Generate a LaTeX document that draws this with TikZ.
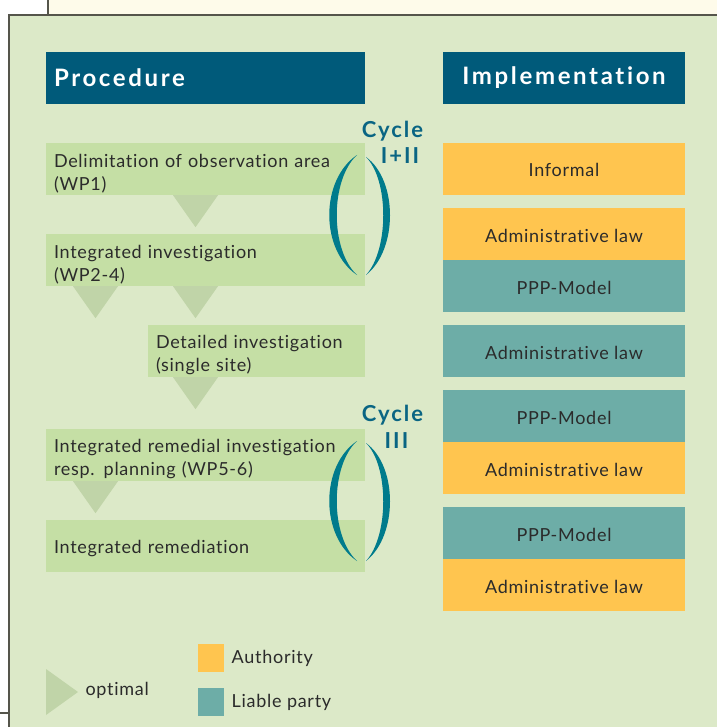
\documentclass[tikz,border=0pt]{standalone}
\usepackage{fontspec}
\setmainfont{Lato}[LetterSpace=4, Ligatures=NoCommon]
\usetikzlibrary{positioning}

\definecolor{panelgreen}{RGB}{220,233,200}
\definecolor{boxgreen}{RGB}{197,223,165}
\definecolor{trigreen}{RGB}{192,212,168}
\definecolor{headblue}{RGB}{0,90,122}
\definecolor{authorange}{RGB}{255,197,79}
\definecolor{liableteal}{RGB}{109,173,167}
\definecolor{cycleteal}{RGB}{0,123,140}
\definecolor{cyclebluetxt}{RGB}{10,101,131}
\definecolor{creambg}{RGB}{254,251,234}
\definecolor{frameline}{RGB}{85,85,75}
\definecolor{txtdark}{RGB}{43,43,43}

\tikzset{
    stepbox/.style={fill=boxgreen, text=txtdark, minimum height=52pt, inner xsep=8pt, inner ysep=0pt,
        align=left, font=\fontsize{18}{23}\selectfont, execute at begin node=\rule{0pt}{#1}},
    stepbox/.default=22pt,
    implbox/.style={minimum width=242pt, minimum height=52pt, text=txtdark,
        text height=16pt, text depth=0pt, font=\fontsize{18}{23}\selectfont},
    headbox/.style={fill=headblue, text=white, minimum height=52pt,
        font=\fontsize{24}{28}\selectfont\bfseries\addfontfeature{LetterSpace=11}},
    legendtxt/.style={text=txtdark, font=\fontsize{18}{20}\selectfont},
    opttri/.pic={\fill[trigreen] (-22.5,0) -- (22.5,0) -- (0,32) -- cycle;},
    cyclepair/.pic={
        \fill[cycleteal] (357,155) .. controls (320,180) and (320,250) .. (357,275)
            .. controls (330,250) and (330,180) .. (357,155);
        \fill[cycleteal] (366,157) .. controls (398,180) and (398,250) .. (366,275)
            .. controls (389,250) and (389,180) .. (366,157);}
}

\begin{document}
\begin{tikzpicture}[x=1pt,y=-1pt]
    \useasboundingbox (0,0) rectangle (717,727);

    % background and frame
    \fill[creambg] (48,0) rectangle (717,15);
    \fill[panelgreen] (9,15) rectangle (717,727);
    \draw[frameline, line width=1.2pt] (48,0) -- (48,15);
    \draw[frameline, line width=1.5pt] (9,727) -- (9,15) -- (717,15);
    \draw[frameline, line width=1.2pt] (0,713) -- (9,713);

    % headers
    \node[headbox, minimum width=319pt, text width=303pt, inner xsep=8pt, align=left] (proc) at (205.5,78) {Procedure};
    \node[headbox, minimum width=242pt] (impl) at (564,78) {Implementation};

    % procedure steps
    \begin{scope}[every node/.style={stepbox, minimum width=319pt, text width=303pt}]
    \node (delim) at (205.5,169) {Delimitation of observation area\\(WP1)};
    \node (integ) at (205.5,260) {Integrated investigation\\(WP2-4)};
    \node (remed) at (205.5,455) {Integrated remedial investigation\\resp. planning (WP5-6)};
    \end{scope}
    \node[stepbox=18pt, minimum width=319pt, text width=303pt] (remon) at (205.5,546) {Integrated remediation};
    \node[stepbox, minimum width=217pt, text width=201pt] (detail) at (256.5,351) {Detailed investigation\\(single site)};

    % optimal way (triangles)
    \pic at (delim.south -| 195.5,0) {opttri};
    \pic at (integ.south -| 95.5,0) {opttri};
    \pic at (integ.south -| 195.5,0) {opttri};
    \pic at (detail.south -| 195.5,0) {opttri};
    \pic at (remed.south -| 95.5,0) {opttri};

    % cycles
    \pic at (0,0) {cyclepair};
    \pic at (0,286) {cyclepair};
    \begin{scope}[every node/.style={text=cyclebluetxt, font=\fontsize{22}{24}\selectfont\bfseries\addfontfeature{LetterSpace=9}, inner sep=0pt}]
    \node (cyc1) at (392.5,131) {Cycle};
    \node (cyc1n) at (400,156) {I+II};
    \node (cyc3) at (392.5,415) {Cycle};
    \node (cyc3n) at (396.5,441) {III};
    \end{scope}

    % implementation
    \begin{scope}[every node/.style={implbox}]
    \node[fill=authorange] (inf) at (564,169) {Informal};
    \node[fill=authorange] (adm1) at (564,234) {Administrative law};
    \node[fill=liableteal] (ppp1) at (564,286) {PPP-Model};
    \node[fill=liableteal] (adm2) at (564,351) {Administrative law};
    \node[fill=liableteal] (ppp2) at (564,416) {PPP-Model};
    \node[fill=authorange] (adm3) at (564,468) {Administrative law};
    \node[fill=liableteal] (ppp3) at (564,533) {PPP-Model};
    \node[fill=authorange] (adm4) at (564,585) {Administrative law};
    \end{scope}

    % legend
    \fill[trigreen] (46,669) -- (78,692) -- (46,715) -- cycle;
    \node[anchor=west, legendtxt] (optl) at (82,690) {optimal};
    \node[fill=authorange, minimum width=26pt, minimum height=28pt, inner sep=0pt] (auth) at (211,658) {};
    \node[fill=liableteal, minimum width=26pt, minimum height=28pt, inner sep=0pt] (liab) at (211,702) {};
    \node[right=4pt of auth, legendtxt] (authl) {Authority};
    \node[right=4pt of liab, legendtxt] (liabl) {Liable party};

\end{tikzpicture}
\end{document}
